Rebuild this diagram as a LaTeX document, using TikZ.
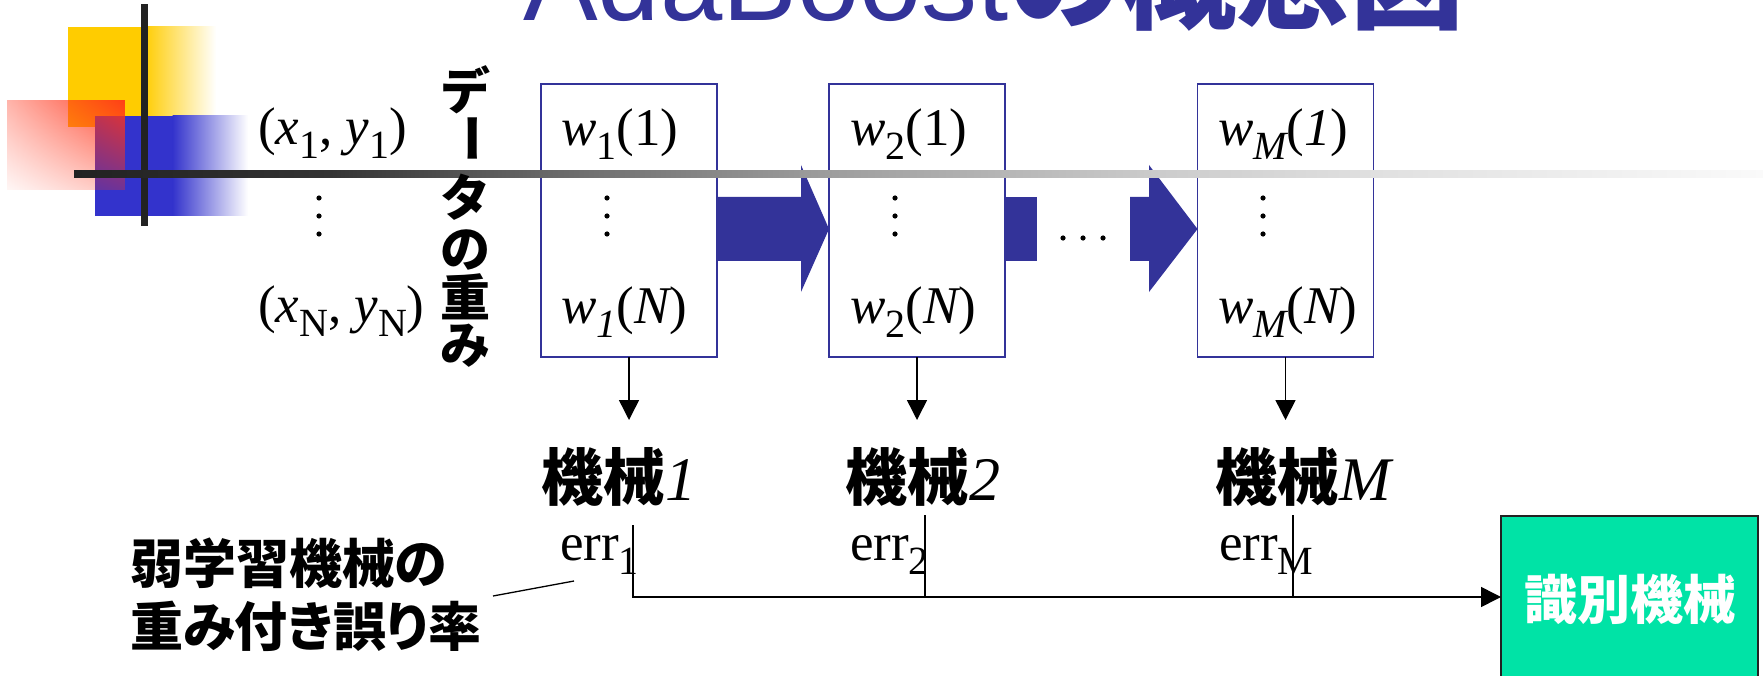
\documentclass[tikz,border=0pt]{standalone}
\usepackage{fontspec}
\setmainfont{Liberation Serif}
\newfontfamily\sansf{Liberation Sans}
\newfontfamily\cjk{Noto Sans CJK JP}
\newfontfamily\cjkp{Noto Sans CJK JP}[RawFeature={+palt}]
\usetikzlibrary{arrows.meta,fadings,shadings}
\definecolor{navy}{HTML}{333399}
\definecolor{ygold}{HTML}{FFCC00}
\definecolor{sqblue}{HTML}{3333CC}
\definecolor{redc}{HTML}{FF3319}
\definecolor{gfill}{HTML}{00E3A6}
\definecolor{barc}{HTML}{222222}
\definecolor{ga}{HTML}{222222}
\definecolor{gb}{HTML}{333333}
\definecolor{gc}{HTML}{666666}
\definecolor{gd}{HTML}{999999}
\definecolor{ge}{HTML}{CCCCCC}
\definecolor{gf}{HTML}{E0E0E0}
\definecolor{gg}{HTML}{FAFAFA}
\newcommand{\subx}[1]{\raisebox{-14pt}{\fontsize{40}{40}\selectfont #1}}
\begin{tikzfadingfrompicture}[name=redfade]
\shade[upper right=transparent!0, upper left=transparent!65, lower right=transparent!72, lower left=transparent!100] (0,0) rectangle (2,2);
\end{tikzfadingfrompicture}
\tikzset{
  wbox/.style={draw=navy, line width=1.8pt, minimum width=176pt, minimum height=273pt, inner sep=0pt, outer sep=0pt},
  txt/.style={inner sep=0pt, outer sep=0pt, anchor=base west, font=\fontsize{53}{60}\selectfont},
  mach/.style={inner sep=0pt, outer sep=0pt, anchor=base west, font=\fontsize{62}{70}\selectfont},
  vch/.style={inner sep=0pt, outer sep=0pt, font=\cjk\bfseries\fontsize{50}{50}\selectfont},
  lab/.style={inner sep=0pt, outer sep=0pt, anchor=base west, font=\cjkp\bfseries\fontsize{53}{60}\selectfont},
  barrow/.style={fill=navy},
  dn/.style={line width=1.5pt, -{Triangle[length=20pt,width=20pt]}},
  conn/.style={line width=1.5pt},
  gbox/.style={draw=barc, fill=gfill, line width=1.2pt, minimum width=257pt, minimum height=162pt, inner sep=0pt, outer sep=0pt},
}
\begin{document}
\begin{tikzpicture}[x=1pt,y=-1pt]
\useasboundingbox (0,0) rectangle (1763,676);
% template decoration
\fill[ygold] (68,27) rectangle (144,127);
\shade[left color=ygold, right color=white] (143.5,27) rectangle (216,127);
\fill[sqblue] (95,116) rectangle (173,216);
\shade[left color=sqblue, right color=white] (172.5,116) rectangle (248,216);
\fill[redc, path fading=redfade, fit fading=true] (7,100) rectangle (125,190);
\fill[barc] (140.5,4) rectangle (147.5,226);
% title
\node[inner sep=0pt, anchor=base west, text=navy] (title) at (523,21)
  {\sansf\fontsize{112}{112}\selectfont AdaBoost\cjk\bfseries\fontsize{114}{114}\selectfont の概念図};
% weight boxes
\node[wbox] (b1) at (629,220.5) {};
\node[wbox] (b2) at (917,220.5) {};
\node[wbox] (b3) at (1285.5,220.5) {};
% block arrows
\fill[barrow] (b1.east |- 0,197) -- (801,197) -- (801,165) -- (b2.west |- 0,229)
  -- (801,292) -- (801,261) -- (b1.east |- 0,261) -- cycle;
\fill[barrow] (b2.east |- 0,197) rectangle (1037,261);
\fill[barrow] (1130,197) -- (1149,197) -- (1149,165) -- (b3.west |- 0,229)
  -- (1149,292) -- (1149,261) -- (1130,261) -- cycle;
% gradient template line
\shade[left color=ga, right color=gb] (74,170.5) rectangle (331,177.5);
\shade[left color=gb, right color=gc] (330,170.5) rectangle (541,177.5);
\shade[left color=gc, right color=gd] (540,170.5) rectangle (801,177.5);
\shade[left color=gd, right color=ge] (800,170.5) rectangle (1161,177.5);
\shade[left color=ge, right color=gf] (1160,170.5) rectangle (1376,177.5);
\shade[left color=gf, right color=gg] (1375,170.5) rectangle (1763,177.5);
% texts in boxes
\node[txt] (w11) at (561,146) {{\itshape w}\subx{1}(1)};
\node[txt] (w1n) at (561,323) {{\itshape w}\subx{\itshape 1}({\itshape N})};
\node[txt] (w21) at (850,146) {{\itshape w}\subx{2}(1)};
\node[txt] (w2n) at (850,323) {{\itshape w}\subx{2}({\itshape N})};
\node[txt] (wm1) at (1218,146) {{\itshape w}\subx{\itshape M}({\itshape 1})};
\node[txt] (wmn) at (1218,323) {{\itshape w}\subx{\itshape M}({\itshape N})};
% data
\node[txt] (d1) at (258,145) {({\itshape x}\subx{1}, {\itshape y}\subx{1})};
\node[txt] (dN) at (258,322) {({\itshape x}\subx{N}, {\itshape y}\subx{N})};
% dots
\foreach \x in {319,607,895,1263} \foreach \y in {198,216,234} \fill (\x,\y) circle (2.6pt);
\foreach \x in {1063,1083,1103} \fill (\x,238) circle (2.6pt);
% vertical label
\node[vch] (v1) at (465,90) {デ};
\node[vch] (v2) at (465,139) {\rotatebox[origin=c]{-90}{ー}};
\node[vch] (v3) at (465,197) {タ};
\node[vch] (v4) at (465,250) {の};
\node[vch] (v5) at (465,297) {重};
\node[vch] (v6) at (465,346) {み};
% machines
\node[mach] (m1) at (541,500) {{\cjk\bfseries 機械}{\itshape 1}};
\node[mach] (m2) at (845,500) {{\cjk\bfseries 機械}{\itshape 2}};
\node[mach] (m3) at (1215,500) {{\cjk\bfseries 機械}{\itshape M}};
\coordinate (t1) at (629,420);
\coordinate (t2) at (917,420);
\coordinate (t3) at (1285.5,420);
\draw[dn] (b1.south) -- (t1);
\draw[dn] (b2.south) -- (t2);
\draw[dn] (b3.south) -- (t3);
% errors
\node[txt] (e1) at (560,560) {err\subx{1}};
\node[txt] (e2) at (850,560) {err\subx{2}};
\node[txt] (e3) at (1219,560) {err\subx{M}};
% final classifier
\node[gbox] (g) at (1629.5,597) {};
\node[inner sep=0pt, anchor=base, text=white, font=\cjk\bfseries\fontsize{53}{53}\selectfont] (gl) at (1630,619) {識別機械};
\coordinate (c1) at (633,525);
\coordinate (c2) at (925,515);
\coordinate (c3) at (1293,515);
\draw[conn] (c2) -- (c2 |- g.west);
\draw[conn] (c3) -- (c3 |- g.west);
\draw[conn, -{Triangle[length=20pt,width=20pt]}] (c1) |- (g.west);
% annotation
\node[lab] (l1) at (130,583) {弱学習機械の};
\node[lab] (l2) at (130,646) {重み付き誤り率};
\coordinate (p0) at (493,596);
\coordinate (p1) at (574,581);
\draw[line width=1.3pt] (p0) -- (p1);
\end{tikzpicture}
\end{document}
